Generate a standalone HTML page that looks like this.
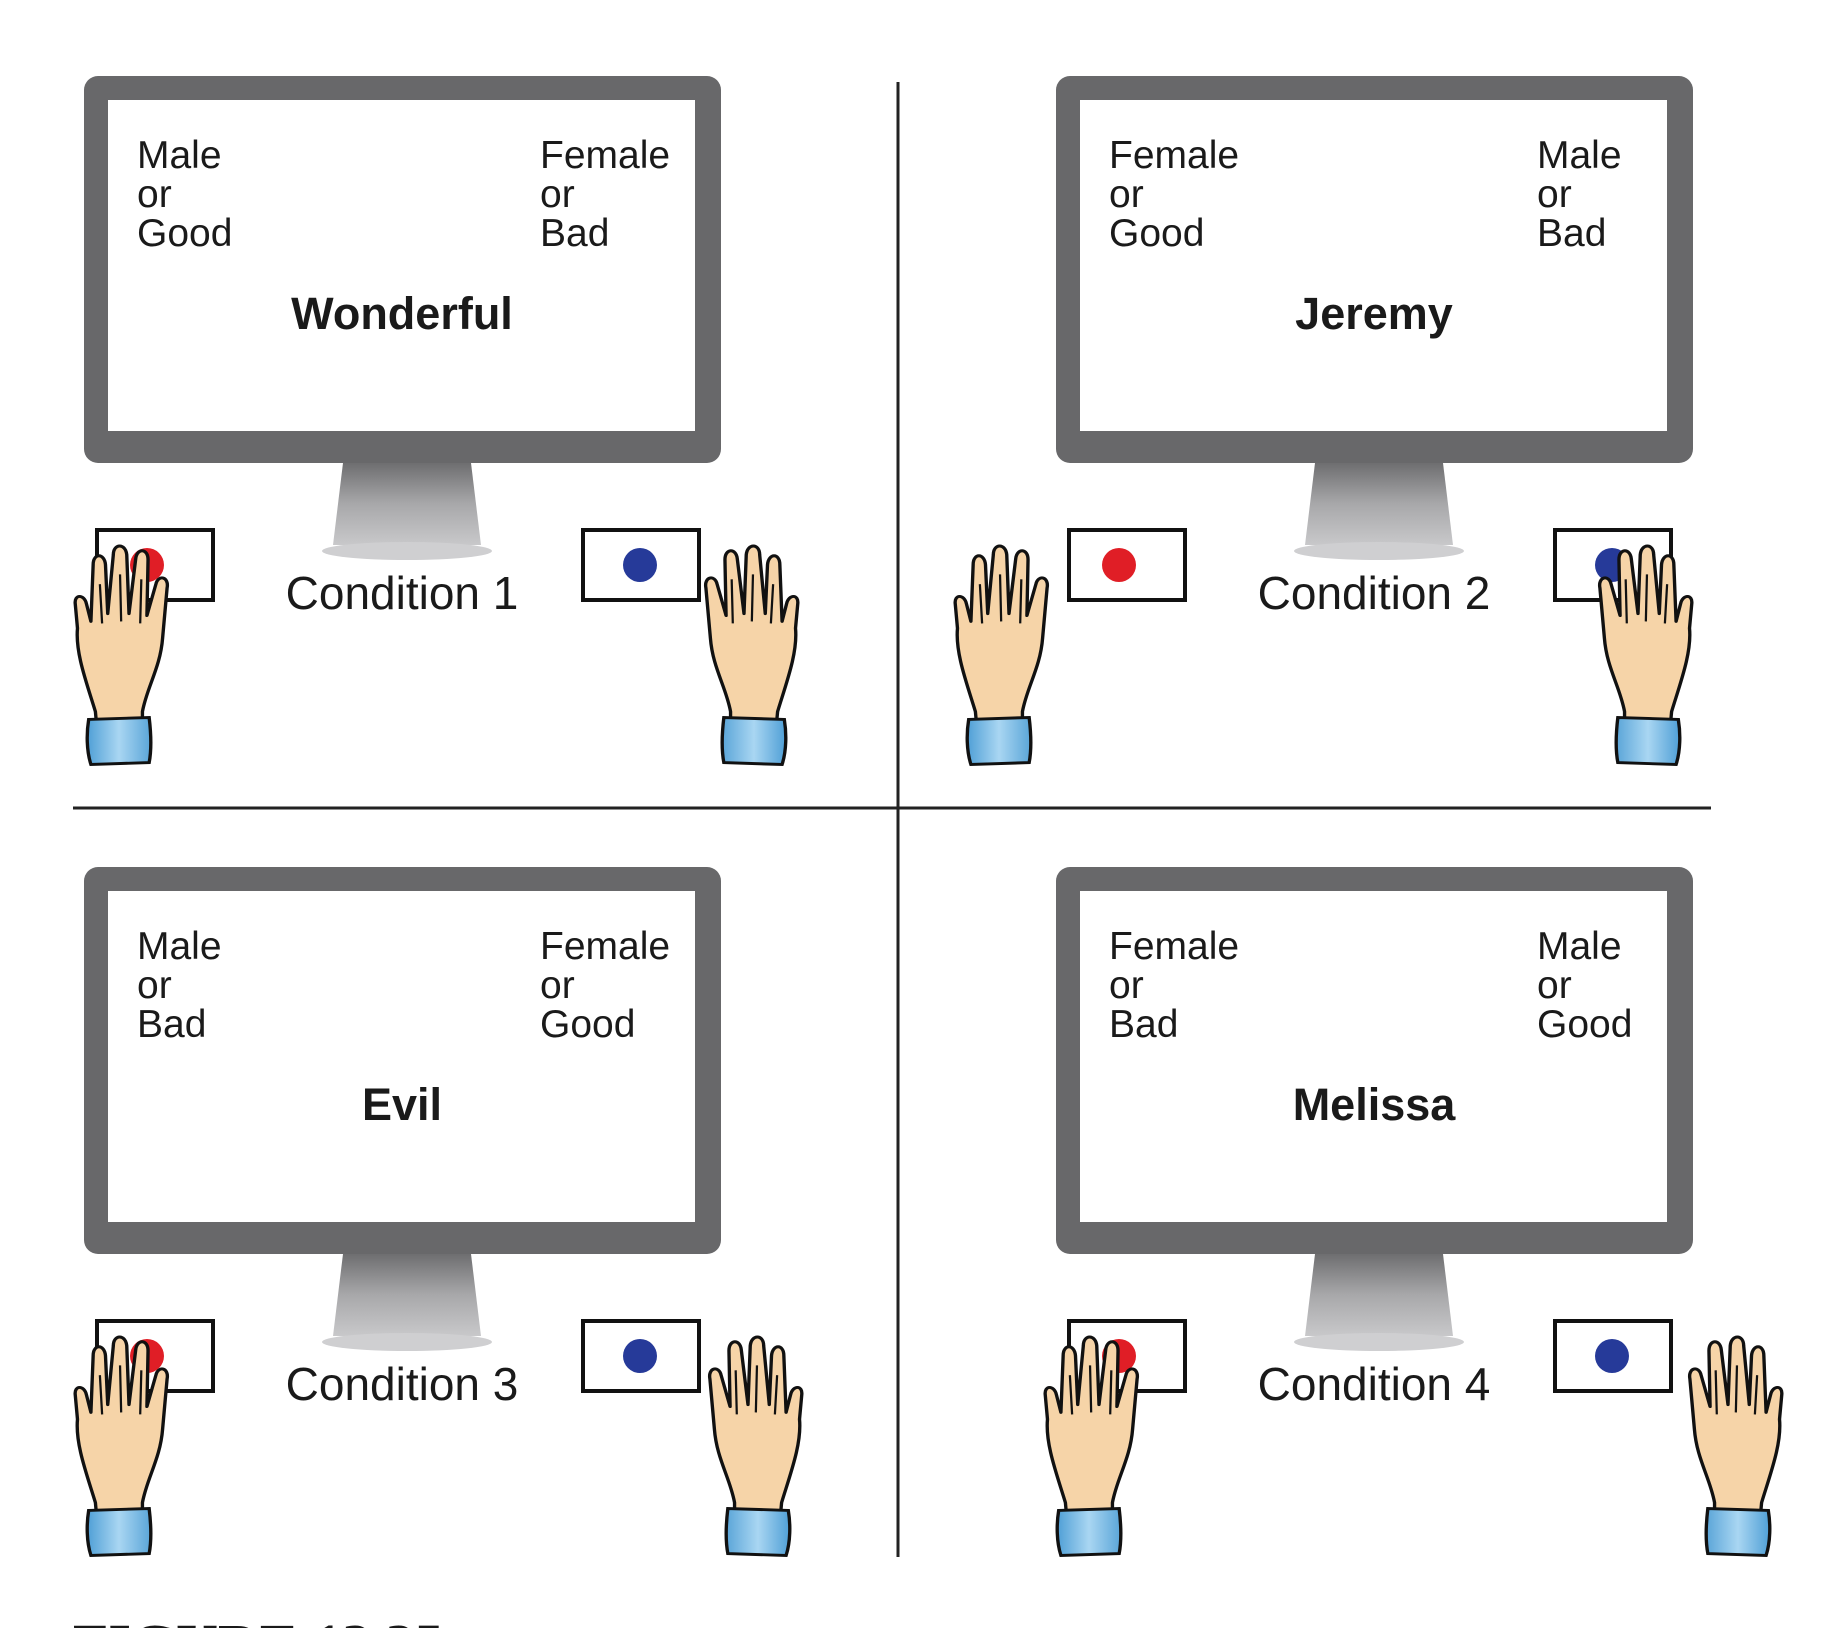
<!DOCTYPE html>
<html><head><meta charset="utf-8"><style>
html,body{margin:0;padding:0;background:#fff;}
svg{display:block;}
text{font-family:"Liberation Sans",Arial,sans-serif;fill:#1a1a1a;}
</style></head><body>
<svg width="1838" height="1628" viewBox="0 0 1838 1628" xmlns="http://www.w3.org/2000/svg">
<defs>
<linearGradient id="stand" x1="0" y1="0" x2="0" y2="1"><stop offset="0" stop-color="#6e6e70"/><stop offset="0.5" stop-color="#a8a8aa"/><stop offset="1" stop-color="#c8c8ca"/></linearGradient>
<linearGradient id="cuff" x1="0" y1="0" x2="1" y2="0"><stop offset="0" stop-color="#4f9fd6"/><stop offset="0.5" stop-color="#a9d6f2"/><stop offset="1" stop-color="#5aa5d8"/></linearGradient>
<g id="hand">
  <path d="M20,170 C12,140 2,110 4,85 L2,60 C1,50 10,50 12,60 L16,78 L18,20 C18,8 28,8 29,20 L31,70 L36,10 C36,-2 47,-2 48,10 L50,70 L56,14 C57,3 67,3 67,15 L66,72 L74,40 C76,30 86,32 84,44 L80,95 C78,125 66,145 62,170 L62,195 L22,195 Z" fill="#f6d4a8" stroke="#111" stroke-width="3" stroke-linejoin="round"/>
  <path d="M24,40 L26,80 M42,30 L43,78 M61,35 L60,80" stroke="#111" stroke-width="2" fill="none"/>
  <path d="M14,178 L68,176 C70,195 70,210 68,222 L16,224 C12,210 12,192 14,178 Z" fill="url(#cuff)" stroke="#111" stroke-width="3"/>
</g>
<g id="mon">
  <rect x="84" y="76" width="637" height="387" rx="14" fill="#68686a"/>
  <rect x="108" y="100" width="587" height="331" fill="#fff"/>
  <path d="M343,463 L471,463 L481,545 L333,545 Z" fill="url(#stand)"/>
  <ellipse cx="407" cy="551" rx="85" ry="9" fill="#cfcfd1"/>
  <rect x="97" y="530" width="116" height="70" fill="#fff" stroke="#111" stroke-width="4"/>
  <circle cx="147" cy="565" r="17" fill="#e01e26"/>
  <rect x="583" y="530" width="116" height="70" fill="#fff" stroke="#111" stroke-width="4"/>
  <circle cx="640" cy="565" r="17" fill="#263a99"/>
</g>
</defs>

<line x1="898" y1="82" x2="898" y2="1557" stroke="#222" stroke-width="3"/>
<line x1="73" y1="808" x2="1711" y2="808" stroke="#222" stroke-width="3"/>

<!-- Q1 -->
<use href="#mon"/>
<g font-size="39">
<text x="137" y="168">Male</text><text x="137" y="207">or</text><text x="137" y="246">Good</text>
<text x="540" y="168">Female</text><text x="540" y="207">or</text><text x="540" y="246">Bad</text>
</g>
<text x="402" y="329" font-size="45" font-weight="bold" text-anchor="middle">Wonderful</text>
<text x="402" y="609" font-size="46" text-anchor="middle" fill="#222">Condition 1</text>
<use href="#hand" transform="translate(73,545) scale(1.12,0.98)"/>
<use href="#hand" transform="translate(800,545) scale(-1.12,0.98)"/>

<!-- Q2 -->
<g transform="translate(972,0)"><use href="#mon"/></g>
<g font-size="39">
<text x="1109" y="168">Female</text><text x="1109" y="207">or</text><text x="1109" y="246">Good</text>
<text x="1537" y="168">Male</text><text x="1537" y="207">or</text><text x="1537" y="246">Bad</text>
</g>
<text x="1374" y="329" font-size="45" font-weight="bold" text-anchor="middle">Jeremy</text>
<text x="1374" y="609" font-size="46" text-anchor="middle" fill="#222">Condition 2</text>
<use href="#hand" transform="translate(953,545) scale(1.12,0.98)"/>
<use href="#hand" transform="translate(1694,545) scale(-1.12,0.98)"/>

<!-- Q3 -->
<g transform="translate(0,791)"><use href="#mon"/></g>
<g font-size="39">
<text x="137" y="959">Male</text><text x="137" y="998">or</text><text x="137" y="1037">Bad</text>
<text x="540" y="959">Female</text><text x="540" y="998">or</text><text x="540" y="1037">Good</text>
</g>
<text x="402" y="1120" font-size="45" font-weight="bold" text-anchor="middle">Evil</text>
<text x="402" y="1400" font-size="46" text-anchor="middle" fill="#222">Condition 3</text>
<use href="#hand" transform="translate(73,1336) scale(1.12,0.98)"/>
<use href="#hand" transform="translate(804,1336) scale(-1.12,0.98)"/>

<!-- Q4 -->
<g transform="translate(972,791)"><use href="#mon"/></g>
<g font-size="39">
<text x="1109" y="959">Female</text><text x="1109" y="998">or</text><text x="1109" y="1037">Bad</text>
<text x="1537" y="959">Male</text><text x="1537" y="998">or</text><text x="1537" y="1037">Good</text>
</g>
<text x="1374" y="1120" font-size="45" font-weight="bold" text-anchor="middle">Melissa</text>
<text x="1374" y="1400" font-size="46" text-anchor="middle" fill="#222">Condition 4</text>
<use href="#hand" transform="translate(1043,1336) scale(1.12,0.98)"/>
<use href="#hand" transform="translate(1784,1336) scale(-1.12,0.98)"/>

<text x="73" y="1664" font-weight="bold" font-size="58" style="font-family:'Liberation Serif',serif">FIGURE 12.25</text>
</svg>
</body></html>
